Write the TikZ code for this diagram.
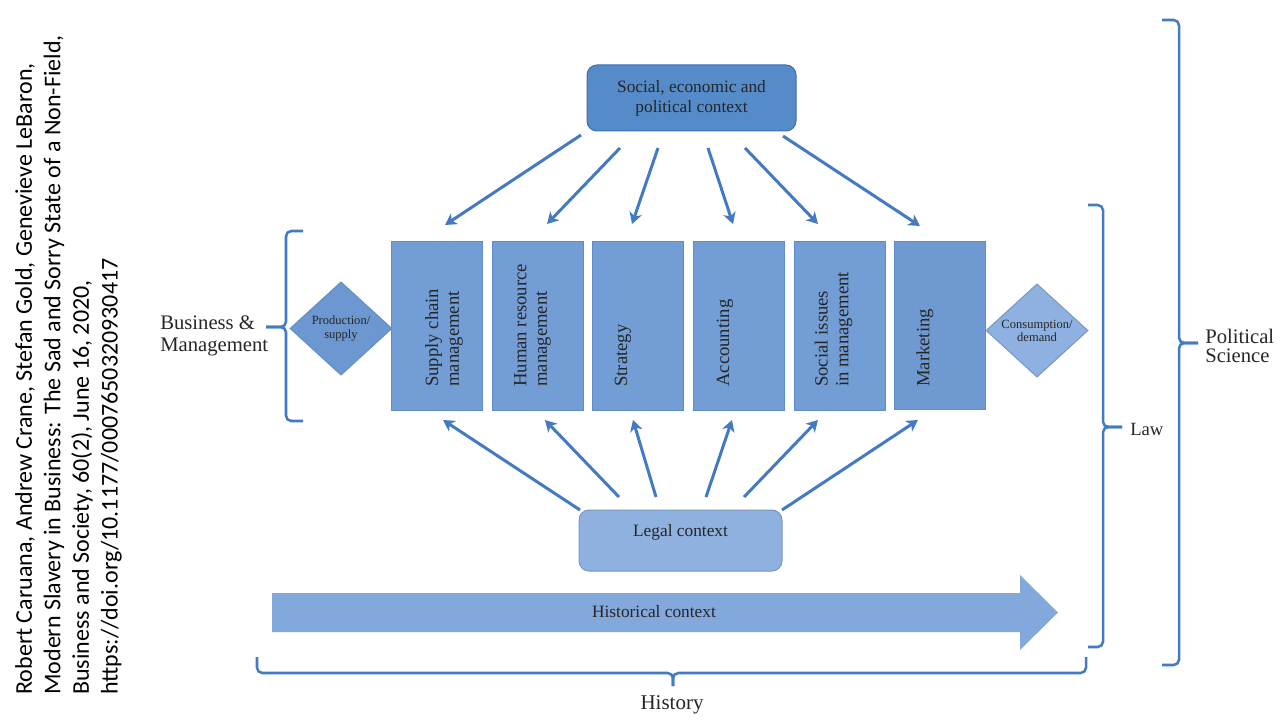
\documentclass[tikz,border=0pt]{standalone}
\usepackage{fontspec}
\setmainfont{Liberation Serif}
\newfontfamily\citefont{Carlito}
\usetikzlibrary{arrows.meta,shapes.geometric}
\definecolor{linecol}{RGB}{68,122,194}
\definecolor{topfill}{RGB}{86,139,202}
\definecolor{rectfill}{RGB}{114,157,213}
\definecolor{mktfill}{RGB}{110,153,209}
\definecolor{rectborder}{RGB}{96,141,201}
\definecolor{prodfill}{RGB}{108,151,209}
\definecolor{consfill}{RGB}{142,177,225}
\definecolor{legalfill}{RGB}{142,177,223}
\definecolor{histfill}{RGB}{131,168,220}
\definecolor{textcol}{RGB}{38,38,38}
\begin{document}
\begin{tikzpicture}[x=0.75pt,y=-0.75pt,
  rectbox/.style={draw=rectborder, line width=0.75pt, fill=rectfill,
    minimum width=68.25pt, minimum height=126pt, inner sep=0pt, outer sep=0pt},
  vtext/.style={rotate=90, anchor=west, align=left, inner sep=0pt, text=textcol,
    font=\fontsize{14}{15.5}\selectfont},
  diam/.style={diamond, draw=rectborder, line width=0.75pt, inner sep=0pt,
    minimum width=76.5pt, minimum height=70pt, align=center, text=textcol,
    font=\fontsize{9.4}{9.8}\selectfont},
  conn/.style={draw=linecol, line width=2.25pt,
    -{Stealth[length=8.5pt,width=9.5pt,inset=2.5pt]}},
  bracestyle/.style={draw=linecol, line width=1.9pt, rounded corners=4pt},
  lbl/.style={text=textcol, inner sep=0pt}
]
\useasboundingbox (0,0) rectangle (1280,720);

% citation
\node[rotate=90, anchor=north west, align=left, inner sep=0pt, text=black,
  font=\citefont\fontsize{18}{21.4}\selectfont] (cite) at (15,695)
  {Robert Caruana, Andrew Crane, Stefan Gold, Genevieve LeBaron,\\
   Modern Slavery in Business: The Sad and Sorry State of a Non-Field,\\
   Business and Society, 60(2), June 16, 2020,\\
   https://doi.org/10.1177/0007650320930417};

% top context
\node[draw=linecol!90!black, line width=0.75pt, fill=topfill, rounded corners=7.5pt,
  minimum width=156.75pt, minimum height=49.5pt, inner sep=0pt, align=center,
  text=textcol, font=\fontsize{13}{15}\selectfont] (ctx) at (691.5,98)
  {Social, economic and\\political context};

% boxes
\node[rectbox] (scm) at (436.5,326) {};
\node[rectbox] (hrm) at (537.5,326) {};
\node[rectbox] (str) at (637.5,326) {};
\node[rectbox] (acc) at (738.5,326) {};
\node[rectbox] (sim) at (839.5,326) {};
\node[rectbox, fill=mktfill] (mkt) at (940,325.5) {};
\node[vtext] (scmt) at (444,387) {Supply chain\\management};
\node[vtext] (hrmt) at (532.5,387) {Human resource\\management};
\node[vtext] (strt) at (623,387) {Strategy};
\node[vtext] (acct) at (725,387) {Accounting};
\node[vtext] (simt) at (833.5,387) {Social issues\\in management};
\node[vtext] (mktt) at (925,387) {Marketing};

% diamonds
\node[diam, fill=prodfill] (prod) at (341,328.5) {Production/\\supply};
\node[diam, fill=consfill, draw=consfill!85!black] (cons) at (1037,330.5) {Consumption/\\demand};

% legal context
\node[draw=legalfill!85!black, line width=0.75pt, fill=legalfill, rounded corners=7.5pt,
  minimum width=152.25pt, minimum height=45.75pt, inner sep=0pt] (legal) at (680.5,540.5) {};
\node[lbl, font=\fontsize{13}{15}\selectfont] (legalt) at (680.5,532) {Legal context};

% historical context arrow
\fill[histfill] (272,593) -- (1020,593) -- (1020,575) -- (1058,612.5) -- (1020,650)
  -- (1020,632) -- (272,632) -- cycle;
\node[lbl, font=\fontsize{13}{15}\selectfont] (hist) at (654,612) {Historical context};

% arrows from the top context
\coordinate (ts1) at (581,135); \coordinate (te1) at (445,225);
\coordinate (ts2) at (620,148); \coordinate (te2) at (547,224);
\coordinate (ts3) at (658,148); \coordinate (te3) at (632,224);
\coordinate (ts4) at (708,148); \coordinate (te4) at (733,224);
\coordinate (ts5) at (745,148); \coordinate (te5) at (818,224);
\coordinate (ts6) at (783,136); \coordinate (te6) at (920,226);
\foreach \i in {1,...,6} { \draw[conn] (ts\i) -- (te\i); }

% arrows from the legal context
\coordinate (bs1) at (580,510); \coordinate (be1) at (443,420);
\coordinate (bs2) at (619,497); \coordinate (be2) at (545,420);
\coordinate (bs3) at (656,497); \coordinate (be3) at (633,420);
\coordinate (bs4) at (706,497); \coordinate (be4) at (732,420);
\coordinate (bs5) at (744,497); \coordinate (be5) at (818,420);
\coordinate (bs6) at (782,510); \coordinate (be6) at (918,420);
\foreach \i in {1,...,6} { \draw[conn] (bs\i) -- (be\i); }

% braces
\draw[bracestyle] (303,231) -- (286,231) -- (286,327) -- (266,327);
\draw[bracestyle] (266,327) -- (286,327) -- (286,421) -- (303,421);
\draw[bracestyle] (1088,205) -- (1103,205) -- (1103,427) -- (1122,427);
\draw[bracestyle] (1122,427) -- (1103,427) -- (1103,647) -- (1088,647);
\draw[bracestyle] (1162,20) -- (1179,20) -- (1179,343) -- (1198,343);
\draw[bracestyle] (1198,343) -- (1179,343) -- (1179,665) -- (1162,665);
\draw[bracestyle] (257,657) -- (257,673) -- (673,673) -- (673,686);
\draw[bracestyle] (673,686) -- (673,673) -- (1086,673) -- (1086,657);

% brace labels
\node[lbl, anchor=west, align=left, font=\fontsize{15.5}{16.5}\selectfont] (bm) at (160,336)
  {Business \&\\Management};
\node[lbl, anchor=west, font=\fontsize{14}{16}\selectfont] (law) at (1130,429) {Law};
\node[lbl, anchor=west, align=left, font=\fontsize{15.5}{14}\selectfont] (pol) at (1205,346)
  {Political\\Science};
\node[lbl, font=\fontsize{15.75}{17}\selectfont] (histl) at (672,705) {History};
\end{tikzpicture}
\end{document}
